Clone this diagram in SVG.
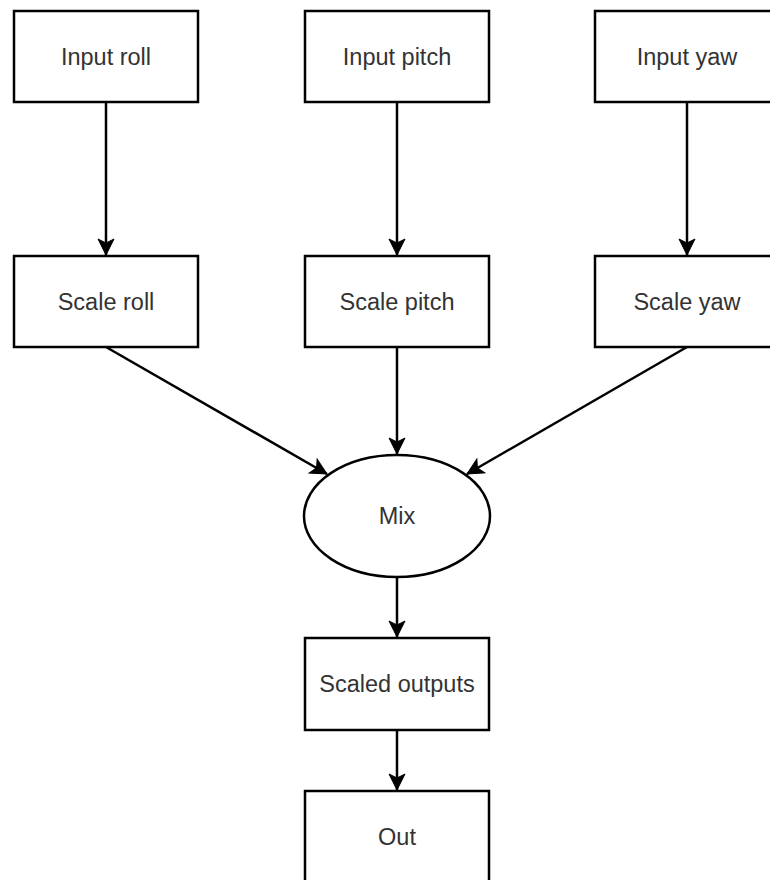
<svg xmlns="http://www.w3.org/2000/svg" width="770" height="880" viewBox="0 0 770 880">
<style>
.box{fill:#fff;stroke:#000;stroke-width:2.5}
.lbl{font-family:"Liberation Sans",Arial,sans-serif;font-size:23.5px;fill:#333;text-anchor:middle}
.edge{fill:none;stroke:#000;stroke-width:2.5}
</style>
<defs>
<marker id="arr" markerUnits="userSpaceOnUse" markerWidth="20" markerHeight="20" refX="17" refY="9" orient="auto" viewBox="0 0 20 20">
<path d="M17,9 L1,1 L5,9 L1,17 Z" fill="#000" stroke="#000" stroke-width="1"/>
</marker>
</defs>
<rect width="770" height="880" fill="#fff"/>
<g id="connectors">
<line class="edge" x1="106" y1="102" x2="106" y2="255" marker-end="url(#arr)"/>
<line class="edge" x1="397" y1="102" x2="397" y2="255" marker-end="url(#arr)"/>
<line class="edge" x1="687" y1="102" x2="687" y2="255" marker-end="url(#arr)"/>
<line class="edge" x1="106" y1="347" x2="327" y2="474" marker-end="url(#arr)"/>
<line class="edge" x1="397" y1="347" x2="397" y2="454" marker-end="url(#arr)"/>
<line class="edge" x1="687" y1="347" x2="467" y2="474" marker-end="url(#arr)"/>
<line class="edge" x1="397" y1="577" x2="397" y2="637" marker-end="url(#arr)"/>
<line class="edge" x1="397" y1="730" x2="397" y2="790" marker-end="url(#arr)"/>
</g>
<g id="input-roll"><rect class="box" x="14" y="11" width="184" height="91"/><text class="lbl" x="106" y="65">Input roll</text></g>
<g id="input-pitch"><rect class="box" x="305" y="11" width="184" height="91"/><text class="lbl" x="397" y="65">Input pitch</text></g>
<g id="input-yaw"><rect class="box" x="595" y="11" width="184" height="91"/><text class="lbl" x="687" y="65">Input yaw</text></g>
<g id="scale-roll"><rect class="box" x="14" y="256" width="184" height="91"/><text class="lbl" x="106" y="310">Scale roll</text></g>
<g id="scale-pitch"><rect class="box" x="305" y="256" width="184" height="91"/><text class="lbl" x="397" y="310">Scale pitch</text></g>
<g id="scale-yaw"><rect class="box" x="595" y="256" width="184" height="91"/><text class="lbl" x="687" y="310">Scale yaw</text></g>
<g id="mix"><ellipse class="box" cx="397" cy="516" rx="93" ry="61"/><text class="lbl" x="397" y="524">Mix</text></g>
<g id="scaled-outputs"><rect class="box" x="305" y="638" width="184" height="92"/><text class="lbl" x="397" y="692">Scaled outputs</text></g>
<g id="out"><rect class="box" x="305" y="791" width="184" height="100"/><text class="lbl" x="397" y="845">Out</text></g>
</svg>
